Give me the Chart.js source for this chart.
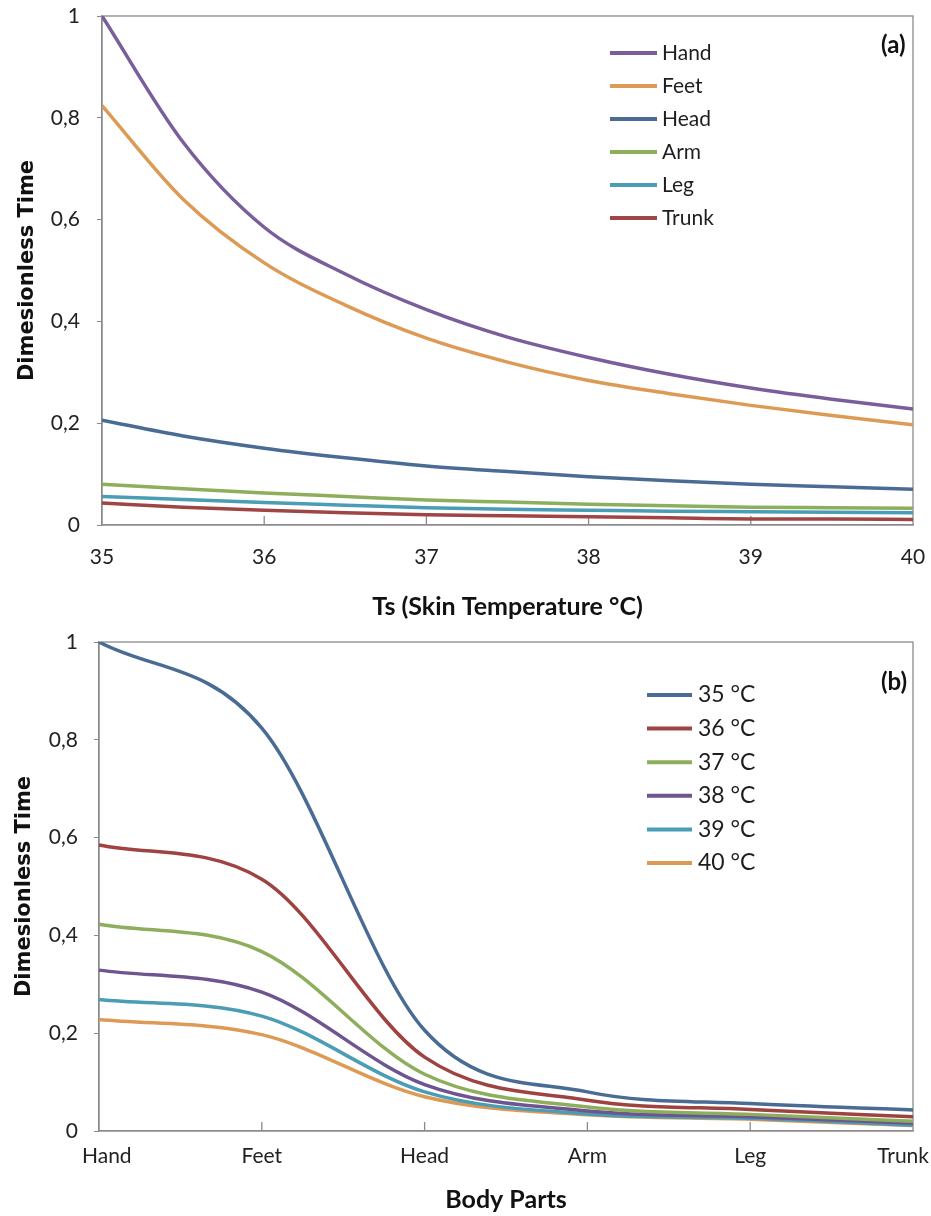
<!DOCTYPE html>
<html>
<head>
<meta charset="utf-8">
<script src="https://cdn.jsdelivr.net/npm/chart.js@4.4.1/dist/chart.umd.min.js"></script>
<style>
  html, body { margin: 0; padding: 0; background: #fff; }
  canvas { display: block; }
</style>
</head>
<body>
<canvas id="plot-a" width="931" height="630"></canvas>
<canvas id="plot-b" width="931" height="586"></canvas>
<script>
// values, every half degree
const skinTemps = [35, 35.5, 36, 36.5, 37, 37.5, 38, 38.5, 39, 39.5, 40];
const handTime  = [1.0, 0.752, 0.585, 0.493, 0.423, 0.369, 0.329, 0.296, 0.269, 0.247, 0.228];
const feetTime  = [0.824, 0.64, 0.515, 0.432, 0.367, 0.32, 0.284, 0.258, 0.235, 0.215, 0.197];
const headTime  = [0.206, 0.175, 0.151, 0.132, 0.116, 0.105, 0.095, 0.087, 0.08, 0.075, 0.07];
const armTime   = [0.08, 0.071, 0.063, 0.056, 0.049, 0.045, 0.041, 0.038, 0.035, 0.034, 0.033];
const legTime   = [0.056, 0.05, 0.044, 0.039, 0.034, 0.031, 0.029, 0.027, 0.026, 0.025, 0.024];
const trunkTime = [0.043, 0.035, 0.029, 0.024, 0.02, 0.018, 0.016, 0.014, 0.012, 0.012, 0.011];

const bodyParts = ['Hand', 'Feet', 'Head', 'Arm', 'Leg', 'Trunk'];
const partSeries = [handTime, feetTime, headTime, armTime, legTime, trunkTime];
const partColors = ['#7A5E9C', '#DD9A55', '#4A6C94', '#8DAE5C', '#4A9DB5', '#A04545'];

const wholeTemps = [35, 36, 37, 38, 39, 40];
const tempLabels = ['35 °C', '36 °C', '37 °C', '38 °C', '39 °C', '40 °C'];
const tempColors = ['#4A6C94', '#9E4242', '#8DAE5C', '#6E5590', '#4A9DB5', '#DD9A55'];

const yTickLabels = ['0', '0,2', '0,4', '0,6', '0,8', '1'];

const axisGrey = '#8a8a8a';
const tickFont = { family: 'Lato', size: 21 };
const titleFont = { family: 'Lato', weight: 'bold', size: 25 };

// box round the plot plus short inward ticks on x
const framePlugin = {
    id: 'frame',
    beforeDatasetsDraw(chart) {
        const { ctx, chartArea: a } = chart;
        const xs = chart.scales.x;
        ctx.save();
        ctx.strokeStyle = axisGrey;
        ctx.lineWidth = 1.3;
        ctx.strokeRect(a.left, a.top, a.right - a.left, a.bottom - a.top);
        for (let i = 1; i < xs.ticks.length - 1; i++) {
            const px = xs.getPixelForTick(i);
            ctx.beginPath();
            ctx.moveTo(px, a.bottom);
            ctx.lineTo(px, a.bottom - 9);
            ctx.stroke();
        }
        ctx.restore();
    }
};

// legend list inside the plot, plus the panel tag
const sideLegend = {
    id: 'sideLegend',
    afterDraw(chart, args, o) {
        const ctx = chart.ctx;
        ctx.save();
        ctx.textBaseline = 'middle';
        ctx.font = o.font;
        chart.data.datasets.forEach((ds, i) => {
            const y = o.top + i * o.step;
            ctx.strokeStyle = ds.borderColor;
            ctx.lineWidth = 4;
            ctx.beginPath();
            ctx.moveTo(o.left, y);
            ctx.lineTo(o.left + o.len, y);
            ctx.stroke();
            ctx.fillStyle = '#1e1e1e';
            ctx.fillText(ds.label, o.left + o.len + o.gap, y);
        });
        ctx.font = o.tagFont;
        ctx.fillStyle = '#111';
        ctx.fillText(o.tag, o.tagX, o.tagY);
        ctx.restore();
    }
};

// category labels kept inside the page at both ends
const edgeLabels = {
    id: 'edgeLabels',
    afterDraw(chart, args, o) {
        const xs = chart.scales.x;
        const ctx = chart.ctx;
        ctx.save();
        ctx.font = o.font;
        ctx.fillStyle = '#222';
        ctx.textAlign = 'left';
        ctx.textBaseline = 'middle';
        xs.ticks.forEach((t, i) => {
            const text = chart.data.labels[i];
            const w = ctx.measureText(text).width;
            let x = xs.getPixelForTick(i) - w / 2;
            x = Math.min(Math.max(x, o.minX), o.maxX - w);
            ctx.fillText(text, x, xs.top + o.dy);
        });
        ctx.restore();
    }
};

function yAxis(width, labelPad, titlePad) {
    return {
        min: 0,
        max: 1,
        ticks: {
            stepSize: 0.2,
            callback: (v, i) => yTickLabels[i],
            padding: labelPad,
            color: '#222',
            font: tickFont
        },
        grid: { drawOnChartArea: false, drawTicks: true, tickLength: 5, color: axisGrey },
        border: { color: axisGrey, width: 1.3 },
        title: {
            display: true,
            text: 'Dimesionless Time',
            color: '#111',
            font: { family: 'DejaVu Sans', weight: 'bold', size: 21 },
            padding: { top: titlePad, bottom: 0 }
        },
        afterFit(s) { s.width = width; s.paddingTop = 0; s.paddingBottom = 0; }
    };
}

new Chart('plot-a', {
    type: 'line',
    data: {
        datasets: partSeries.map((series, k) => ({
            label: bodyParts[k],
            data: skinTemps.map((t, i) => ({ x: t, y: series[i] })),
            borderColor: partColors[k],
            borderWidth: 3.5,
            pointRadius: 0,
            fill: false,
            cubicInterpolationMode: 'monotone'
        }))
    },
    options: {
        responsive: false,
        animation: false,
        layout: { padding: { top: 16, left: 0, right: 18, bottom: 0 } },
        plugins: {
            legend: { display: false },
            tooltip: { enabled: false },
            sideLegend: {
                left: 610, len: 47, gap: 5, top: 53, step: 33,
                font: '21px Lato',
                tag: '(a)', tagX: 881, tagY: 45,
                tagFont: 'bold 24px Lato'
            }
        },
        scales: {
            x: {
                type: 'linear',
                min: 35,
                max: 40,
                ticks: { stepSize: 1, padding: 20, color: '#222', font: tickFont },
                grid: { display: false, drawTicks: false },
                border: { color: axisGrey, width: 1.3 },
                title: {
                    display: true,
                    text: 'Ts (Skin Temperature °C)',
                    color: '#111',
                    font: titleFont,
                    padding: { top: 0, bottom: 8 }
                },
                afterFit(s) { s.height = 105; s.paddingLeft = 0; s.paddingRight = 0; }
            },
            y: yAxis(102, 17, 15)
        }
    },
    plugins: [framePlugin, sideLegend]
});

new Chart('plot-b', {
    type: 'line',
    data: {
        labels: bodyParts,
        datasets: wholeTemps.map((t, k) => ({
            label: tempLabels[k],
            data: partSeries.map(series => series[skinTemps.indexOf(t)]),
            borderColor: tempColors[k],
            borderWidth: 3.5,
            pointRadius: 0,
            fill: false,
            cubicInterpolationMode: 'monotone'
        }))
    },
    options: {
        responsive: false,
        animation: false,
        layout: { padding: { top: 12, left: 0, right: 18, bottom: 0 } },
        plugins: {
            legend: { display: false },
            tooltip: { enabled: false },
            sideLegend: {
                left: 647, len: 45, gap: 6, top: 65, step: 33.6,
                font: '23px Lato',
                tag: '(b)', tagX: 881, tagY: 52,
                tagFont: 'bold 24px Lato'
            },
            edgeLabels: { font: '21px Lato', minX: 82, maxX: 929, dy: 25 }
        },
        scales: {
            x: {
                type: 'category',
                offset: false,
                ticks: { display: false },
                grid: { display: false, drawTicks: false },
                border: { color: axisGrey, width: 1.3 },
                title: {
                    display: true,
                    text: 'Body Parts',
                    color: '#111',
                    font: titleFont,
                    padding: { top: 0, bottom: 1 }
                },
                afterFit(s) { s.height = 85; s.paddingLeft = 0; s.paddingRight = 0; }
            },
            y: yAxis(99, 16, 12)
        }
    },
    plugins: [framePlugin, sideLegend, edgeLabels]
});
</script>
</body>
</html>
